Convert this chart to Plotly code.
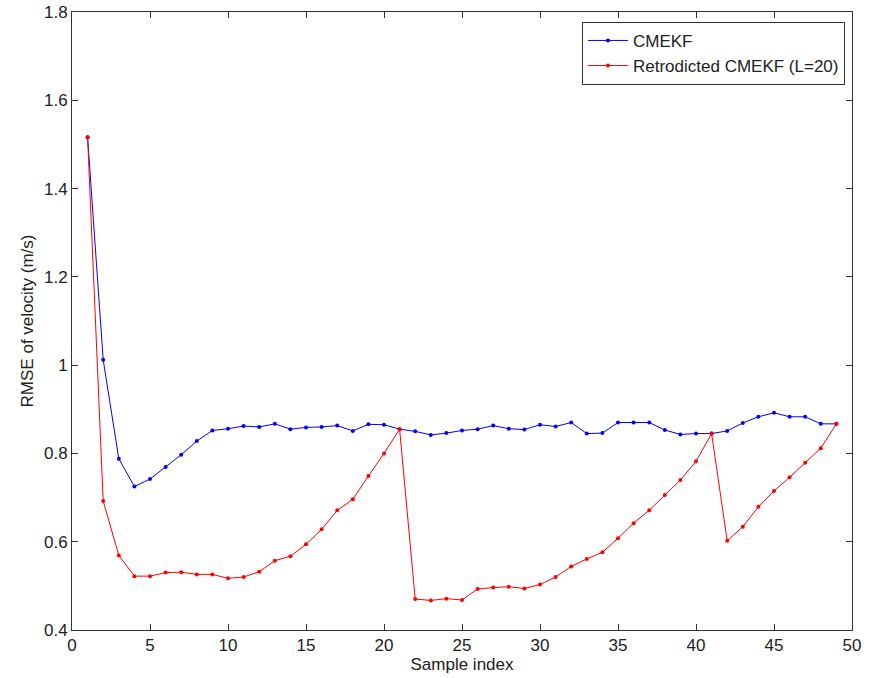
import plotly.graph_objects as go

sample_index = list(range(1, 50))
cmekf = [1.516, 1.012, 0.788, 0.725, 0.742, 0.769, 0.797, 0.828, 0.852, 0.856,
         0.862, 0.860, 0.867, 0.855, 0.859, 0.860, 0.863, 0.851, 0.866, 0.865,
         0.855, 0.850, 0.842, 0.846, 0.852, 0.855, 0.863, 0.856, 0.854, 0.865,
         0.861, 0.870, 0.845, 0.846, 0.870, 0.870, 0.870, 0.853, 0.843, 0.845,
         0.845, 0.851, 0.869, 0.883, 0.892, 0.883, 0.883, 0.867, 0.867]
retro = [1.516, 0.692, 0.569, 0.522, 0.522, 0.530, 0.531, 0.526, 0.526, 0.517,
         0.520, 0.532, 0.557, 0.567, 0.594, 0.628, 0.671, 0.696, 0.749, 0.800,
         0.855, 0.470, 0.467, 0.471, 0.468, 0.493, 0.496, 0.498, 0.494, 0.503,
         0.520, 0.544, 0.561, 0.576, 0.608, 0.642, 0.671, 0.706, 0.740, 0.782,
         0.845, 0.602, 0.634, 0.679, 0.715, 0.746, 0.779, 0.812, 0.867]
x_ticks = [0, 5, 10, 15, 20, 25, 30, 35, 40, 45, 50]
y_ticks = [0.4, 0.6, 0.8, 1.0, 1.2, 1.4, 1.6, 1.8]
y_tick_text = ["0.4", "0.6", "0.8", "1", "1.2", "1.4", "1.6", "1.8"]

FONT = "Liberation Sans, Arial"
TXT = "#222222"

fig = go.Figure()
fig.add_trace(go.Scatter(x=sample_index, y=cmekf, mode="lines+markers", name="CMEKF",
                         line=dict(color="#0000ff", width=1), marker=dict(color="#0000ff", size=4)))
fig.add_trace(go.Scatter(x=sample_index, y=retro, mode="lines+markers", name="Retrodicted CMEKF (L=20)",
                         line=dict(color="#ff0000", width=1), marker=dict(color="#ff0000", size=4)))

axis_common = dict(showgrid=False, zeroline=False, showline=True, linecolor="#333333", linewidth=1,
                   mirror="ticks", ticks="inside", ticklen=6, tickcolor="#333333", automargin=False,
                   ticklabeloverflow="allow",
                   tickfont=dict(family=FONT, size=17, color=TXT))
fig.update_xaxes(range=[0, 50], tickvals=x_ticks, title=dict(text="Sample index", standoff=2,
                 font=dict(family=FONT, size=17, color=TXT)), **axis_common)
fig.update_yaxes(range=[0.4, 1.8], tickvals=y_ticks, ticktext=y_tick_text,
                 title=dict(text="RMSE of velocity (m/s)", standoff=6,
                 font=dict(family=FONT, size=17, color=TXT)), **axis_common)
fig.update_layout(width=873, height=678, margin=dict(l=72, r=21, t=12, b=48),
                  paper_bgcolor="white", plot_bgcolor="white",
                  legend=dict(x=0.991, y=0.984, xanchor="right", yanchor="top",
                              bordercolor="#333333", borderwidth=1, bgcolor="white",
                              font=dict(family=FONT, size=17, color=TXT),
                              tracegroupgap=0, itemwidth=40))
fig.write_html("out.html", config={"displayModeBar": False},
               post_script="document.body.style.margin='0';")
